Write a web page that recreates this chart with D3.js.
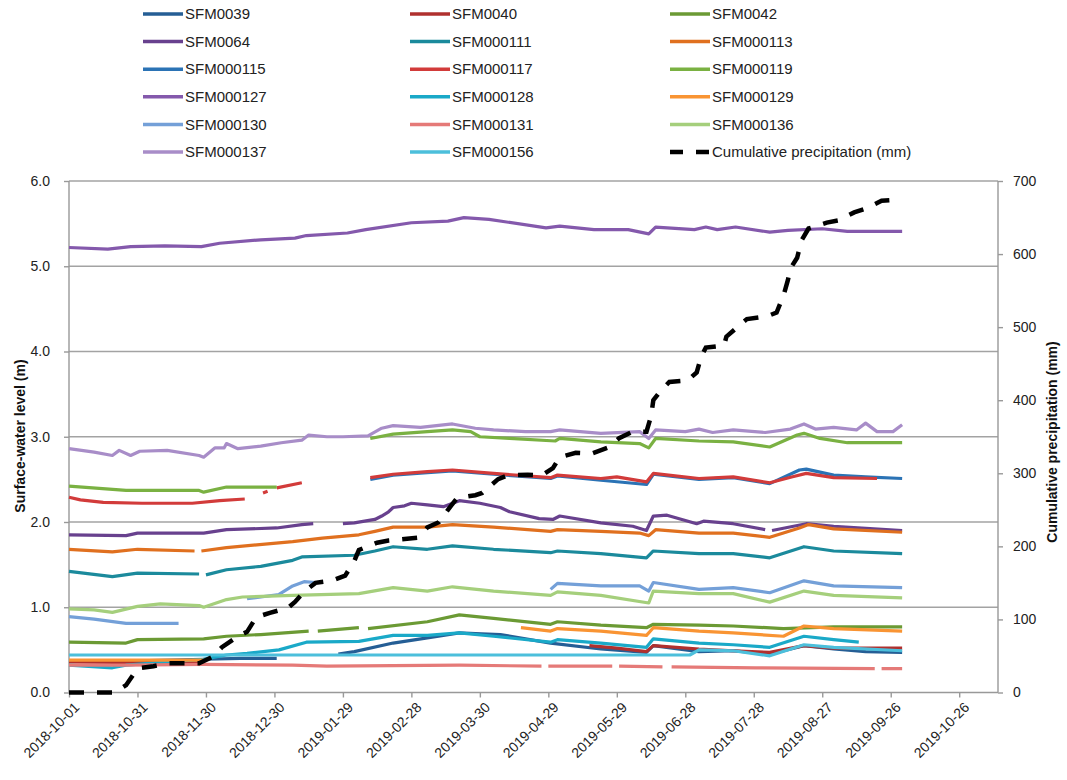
<!DOCTYPE html>
<html>
  <head>
    <meta charset="utf-8">
    <title>Surface-water level</title>
    <script src="https://d3js.org/d3.v7.min.js" charset="utf-8"></script>
    <style>
      body { margin: 0; background: #fff; font-family: "Liberation Sans", Arial, sans-serif; }
      .axis text { font-size: 14px; fill: #222; }
      .legend text { font-size: 15px; fill: #222; }
    </style>
  </head>
<body>
  <div id="chart"></div>
  <script type="text/javascript">
// series values as [days since 2018-10-01, level (m)], null = no data
var sfm0039 = [[0,0.37],[30,0.37],[59,0.39],[75,0.40],[91,0.40],[92,null],[118,0.45],[125,0.48],[142,0.58],[157,0.64],[171,0.70],[178,0.69],[189,0.68],[211,0.58],[233,0.51],[253,0.47],[256,0.55],[276,0.48],[291,0.49],[307,0.45],[322,0.55],[335,0.51],[349,0.48],[365,0.47]];
var sfm0040 = [[0,0.36],[30,0.35],[59,0.36],[60,null],[228,0.55],[240,0.52],[253,0.48],[256,0.55],[276,0.51],[291,0.49],[307,0.47],[322,0.55],[335,0.52],[365,0.52]];
var sfm0042 = [[0,0.59],[25,0.58],[30,0.62],[59,0.63],[69,0.66],[84,0.68],[105,0.72],[106,null],[109,0.72],[127,0.76],[128,null],[131,0.75],[157,0.83],[171,0.91],[186,0.87],[211,0.80],[214,0.83],[233,0.79],[253,0.76],[256,0.80],[276,0.79],[291,0.78],[313,0.75],[335,0.77],[365,0.77]];
var sfm0064 = [[0,1.85],[25,1.84],[30,1.87],[59,1.87],[69,1.91],[91,1.93],[102,1.97],[107,1.98],[108,null],[120,1.98],[125,1.99],[134,2.03],[137,2.07],[140,2.12],[142,2.17],[147,2.19],[150,2.22],[157,2.20],[164,2.18],[171,2.25],[180,2.22],[189,2.17],[193,2.12],[206,2.04],[212,2.03],[215,2.07],[233,1.99],[247,1.95],[253,1.90],[256,2.07],[262,2.08],[275,1.98],[278,2.01],[291,1.98],[305,1.91],[306,null],[308,1.90],[323,1.98],[335,1.95],[365,1.90]];
var sfm000111 = [[0,1.42],[19,1.36],[30,1.40],[57,1.39],[58,null],[60,1.38],[69,1.44],[84,1.48],[98,1.55],[102,1.59],[125,1.61],[134,1.66],[142,1.71],[157,1.68],[168,1.72],[186,1.68],[211,1.64],[214,1.66],[233,1.63],[253,1.58],[256,1.66],[276,1.63],[291,1.63],[307,1.58],[322,1.71],[335,1.66],[365,1.63]];
var sfm000113 = [[0,1.68],[19,1.65],[30,1.68],[55,1.66],[56,null],[58,1.66],[69,1.70],[98,1.77],[111,1.81],[127,1.85],[134,1.89],[142,1.94],[157,1.94],[168,1.97],[186,1.94],[211,1.89],[214,1.91],[233,1.89],[250,1.87],[254,1.84],[257,1.91],[276,1.87],[291,1.87],[307,1.82],[320,1.93],[324,1.97],[335,1.92],[365,1.88]];
var sfm000115 = [[132,2.50],[142,2.55],[157,2.58],[168,2.60],[186,2.56],[211,2.51],[214,2.54],[233,2.49],[253,2.44],[256,2.56],[276,2.50],[291,2.52],[307,2.45],[320,2.61],[323,2.62],[335,2.55],[349,2.53],[365,2.51]];
var sfm000117 = [[0,2.29],[5,2.26],[15,2.23],[32,2.22],[54,2.22],[66,2.25],[77,2.27],[78,null],[85,2.34],[87,2.36],[88,null],[91,2.40],[102,2.46],[103,null],[132,2.52],[142,2.56],[157,2.59],[168,2.61],[186,2.57],[211,2.52],[214,2.55],[233,2.51],[240,2.53],[253,2.47],[256,2.57],[276,2.51],[291,2.53],[307,2.46],[317,2.53],[323,2.57],[335,2.52],[354,2.51]];
var sfm000119 = [[0,2.42],[25,2.37],[57,2.37],[59,2.35],[69,2.41],[91,2.41],[92,null],[132,2.98],[142,3.03],[157,3.06],[168,3.08],[176,3.06],[180,3.00],[193,2.98],[213,2.95],[215,2.98],[233,2.94],[250,2.92],[254,2.87],[257,2.98],[276,2.95],[291,2.94],[307,2.88],[319,3.02],[322,3.04],[329,2.98],[341,2.93],[365,2.93]];
var sfm000127 = [[0,5.22],[17,5.20],[27,5.23],[42,5.24],[58,5.23],[66,5.27],[84,5.31],[99,5.33],[104,5.36],[122,5.39],[130,5.43],[150,5.51],[166,5.53],[173,5.57],[184,5.55],[209,5.45],[215,5.47],[230,5.43],[245,5.43],[254,5.38],[257,5.46],[274,5.43],[279,5.46],[284,5.43],[292,5.46],[307,5.40],[315,5.42],[330,5.44],[341,5.41],[365,5.41]];
var sfm000128 = [[0,0.32],[19,0.29],[25,0.32],[59,0.39],[69,0.44],[78,0.46],[92,0.50],[104,0.59],[127,0.60],[142,0.67],[157,0.67],[171,0.70],[186,0.66],[211,0.59],[214,0.62],[233,0.58],[253,0.53],[256,0.63],[276,0.58],[291,0.56],[307,0.53],[322,0.66],[335,0.62],[346,0.59]];
var sfm000129 = [[0,0.38],[30,0.38],[59,0.38],[60,null],[198,0.76],[211,0.72],[214,0.75],[233,0.72],[253,0.67],[256,0.76],[276,0.72],[291,0.70],[313,0.66],[322,0.78],[335,0.75],[365,0.72]];
var sfm000130 = [[0,0.89],[11,0.86],[25,0.81],[48,0.81],[49,null],[78,1.10],[92,1.15],[98,1.25],[103,1.30],[108,1.29],[109,null],[211,1.21],[214,1.28],[233,1.25],[250,1.25],[254,1.19],[256,1.29],[276,1.21],[291,1.23],[307,1.17],[322,1.31],[335,1.25],[365,1.23]];
var sfm000131 = [[0,0.32],[25,0.32],[59,0.33],[98,0.32],[113,0.31],[171,0.32],[207,0.31],[208,null],[210,0.31],[238,0.31],[239,null],[241,0.31],[260,0.30],[261,null],[264,0.30],[301,0.29],[353,0.28],[354,null],[356,0.28],[365,0.28]];
var sfm000136 = [[0,0.98],[11,0.97],[19,0.94],[30,1.01],[40,1.04],[57,1.02],[59,1.00],[69,1.09],[76,1.12],[98,1.14],[127,1.16],[142,1.23],[157,1.19],[168,1.24],[186,1.19],[211,1.14],[214,1.18],[233,1.14],[254,1.05],[256,1.19],[276,1.16],[291,1.16],[307,1.06],[322,1.19],[335,1.14],[365,1.11]];
var sfm000137 = [[0,2.86],[11,2.82],[19,2.78],[22,2.84],[27,2.78],[31,2.83],[43,2.84],[57,2.78],[59,2.76],[64,2.87],[68,2.87],[69,2.92],[74,2.86],[84,2.89],[93,2.93],[102,2.96],[105,3.02],[113,3.00],[120,3.00],[131,3.01],[137,3.10],[142,3.13],[154,3.11],[168,3.15],[178,3.10],[186,3.08],[200,3.06],[211,3.06],[215,3.08],[233,3.04],[250,3.06],[254,2.98],[257,3.08],[270,3.06],[276,3.09],[282,3.05],[291,3.08],[305,3.05],[316,3.09],[322,3.15],[327,3.09],[335,3.11],[342,3.09],[345,3.08],[349,3.16],[354,3.06],[361,3.06],[365,3.14]];
var sfm000156 = [[0,0.44],[100,0.44],[200,0.44],[272,0.44],[276,0.50],[291,0.49],[307,0.43],[322,0.56],[335,0.53],[365,0.49]];

// cumulative precipitation (mm)
var precip = [[0,0],[20,0],[25,10],[30,33],[37,36],[43,40],[57,40],[63,49],[67,62],[74,77],[78,83],[82,103],[88,109],[96,116],[99,124],[103,138],[108,150],[115,153],[121,160],[125,180],[127,195],[135,205],[140,208],[147,210],[153,212],[157,226],[162,233],[167,254],[170,266],[178,270],[181,273],[188,292],[192,297],[201,298],[207,297],[212,307],[215,322],[222,328],[229,327],[236,335],[241,348],[247,357],[253,357],[255,378],[256,400],[259,412],[263,425],[271,427],[275,438],[277,460],[279,472],[287,475],[288,487],[295,506],[297,511],[306,515],[310,520],[313,543],[315,565],[316,580],[319,595],[321,619],[324,635],[332,643],[337,646],[344,657],[349,662],[356,673],[361,674]];

var names = ["SFM0039","SFM0040","SFM0042","SFM0064","SFM000111","SFM000113","SFM000115","SFM000117","SFM000119","SFM000127","SFM000128","SFM000129","SFM000130","SFM000131","SFM000136","SFM000137","SFM000156"];
var values = [sfm0039,sfm0040,sfm0042,sfm0064,sfm000111,sfm000113,sfm000115,sfm000117,sfm000119,sfm000127,sfm000128,sfm000129,sfm000130,sfm000131,sfm000136,sfm000137,sfm000156];
var colors = ["#255e95","#b0302e","#6b9a34","#68418e","#1b8a9c","#e0701f","#2b73b5","#d23b3a","#7ab142","#8459ac","#1aa9c8","#f99433","#74a0d8","#e57a78","#a5cf7c","#a88dc8","#4cbfdb"];
var precipLabel = "Cumulative precipitation (mm)";

var xTicks = d3.range(0, 391, 30);
var leftTicks = [0,1,2,3,4,5,6];
var rightTicks = [0,100,200,300,400,500,600,700];

var width = 1067, height = 780,
    plot = {left: 69, right: 998, top: 181, bottom: 692.5};

var start = new Date(Date.UTC(2018, 9, 1));
var day = function(d) { return d3.utcDay.offset(start, d); };

var x = d3.scaleUtc()
    .domain([start, day(407)])
    .range([plot.left, plot.right]);
var y = d3.scaleLinear().domain([0, 6]).range([plot.bottom, plot.top]);
var yR = d3.scaleLinear().domain([0, 700]).range([plot.bottom, plot.top]);

var svg = d3.select("#chart").append("svg")
    .attr("width", width)
    .attr("height", height);

// gridlines
svg.append("g")
    .selectAll("line")
    .data(leftTicks.slice(1))
    .enter().append("line")
    .attr("x1", plot.left).attr("x2", plot.right)
    .attr("y1", function(d) { return y(d); })
    .attr("y2", function(d) { return y(d); })
    .attr("stroke", "#a3a3a3")
    .attr("stroke-width", 1.4);

var fmt = d3.utcFormat("%Y-%m-%d");

var xAxis = svg.append("g")
    .attr("class", "axis")
    .attr("transform", "translate(0," + plot.bottom + ")")
    .call(d3.axisBottom(x).tickValues(xTicks.map(day)).tickSize(5).tickFormat(fmt));
xAxis.selectAll("text")
    .attr("text-anchor", "end")
    .attr("dy", 0)
    .attr("transform", "translate(5,10) rotate(-45)");

var leftAxis = svg.append("g")
    .attr("class", "axis")
    .attr("transform", "translate(" + plot.left + ",0)")
    .call(d3.axisLeft(y).tickValues(leftTicks).tickSize(5).tickPadding(14).tickFormat(d3.format(".1f")));

var rightAxis = svg.append("g")
    .attr("class", "axis")
    .attr("transform", "translate(" + plot.right + ",0)")
    .call(d3.axisRight(yR).tickValues(rightTicks).tickSize(5).tickPadding(10));

svg.selectAll(".axis path, .axis line")
    .attr("stroke", "#999")
    .attr("stroke-width", 1.4);
// plain domain lines without end caps
leftAxis.select(".domain").attr("d", "M0," + plot.top + "V" + plot.bottom);
rightAxis.select(".domain").attr("d", "M0," + plot.top + "V" + plot.bottom);
xAxis.select(".domain").attr("d", "M" + plot.left + ",0H" + plot.right);

svg.append("text")
    .attr("transform", "translate(25,436) rotate(-90)")
    .attr("text-anchor", "middle")
    .attr("font-size", 14)
    .attr("font-weight", "bold")
    .attr("fill", "#111")
    .text("Surface-water level (m)");

svg.append("text")
    .attr("transform", "translate(1057,442) rotate(-90)")
    .attr("text-anchor", "middle")
    .attr("font-size", 14)
    .attr("font-weight", "bold")
    .attr("fill", "#111")
    .text(precipLabel);

var line = d3.line()
    .defined(function(d) { return d[1] != null; })
    .x(function(d) { return x(day(d[0])); })
    .y(function(d) { return y(d[1]); });

var lineR = d3.line()
    .x(function(d) { return x(day(d[0])); })
    .y(function(d) { return yR(d[1]); });

svg.append("g")
    .selectAll("path")
    .data(values)
    .enter().append("path")
    .attr("d", line)
    .attr("fill", "none")
    .attr("stroke", function(d, i) { return colors[i]; })
    .attr("stroke-width", 3.2)
    .attr("stroke-linejoin", "round");

svg.append("path")
    .attr("d", lineR(precip))
    .attr("fill", "none")
    .attr("stroke", "#000")
    .attr("stroke-width", 4.5)
    .attr("stroke-dasharray", "15,13");

// legend, 3 columns
var legendItems = names.map(function(n, i) { return {name: n, color: colors[i]}; });
legendItems.push({name: precipLabel, color: "#000", dash: true});
var colX = [143, 410, 670];

var legend = svg.append("g").attr("class", "legend")
    .selectAll("g")
    .data(legendItems)
    .enter().append("g")
    .attr("transform", function(d, i) {
        return "translate(" + colX[i % 3] + "," + (14 + Math.floor(i / 3) * 27.6) + ")";
    });
legend.append("line")
    .attr("x1", 0).attr("x2", 40)
    .attr("stroke", function(d) { return d.color; })
    .attr("stroke-width", function(d) { return d.dash ? 4.5 : 3.5; })
    .attr("stroke-dasharray", function(d) { return d.dash ? "13,13" : null; });
legend.append("text")
    .attr("x", 42)
    .attr("dy", "0.35em")
    .text(function(d) { return d.name; });
</script>
</body>
</html>
